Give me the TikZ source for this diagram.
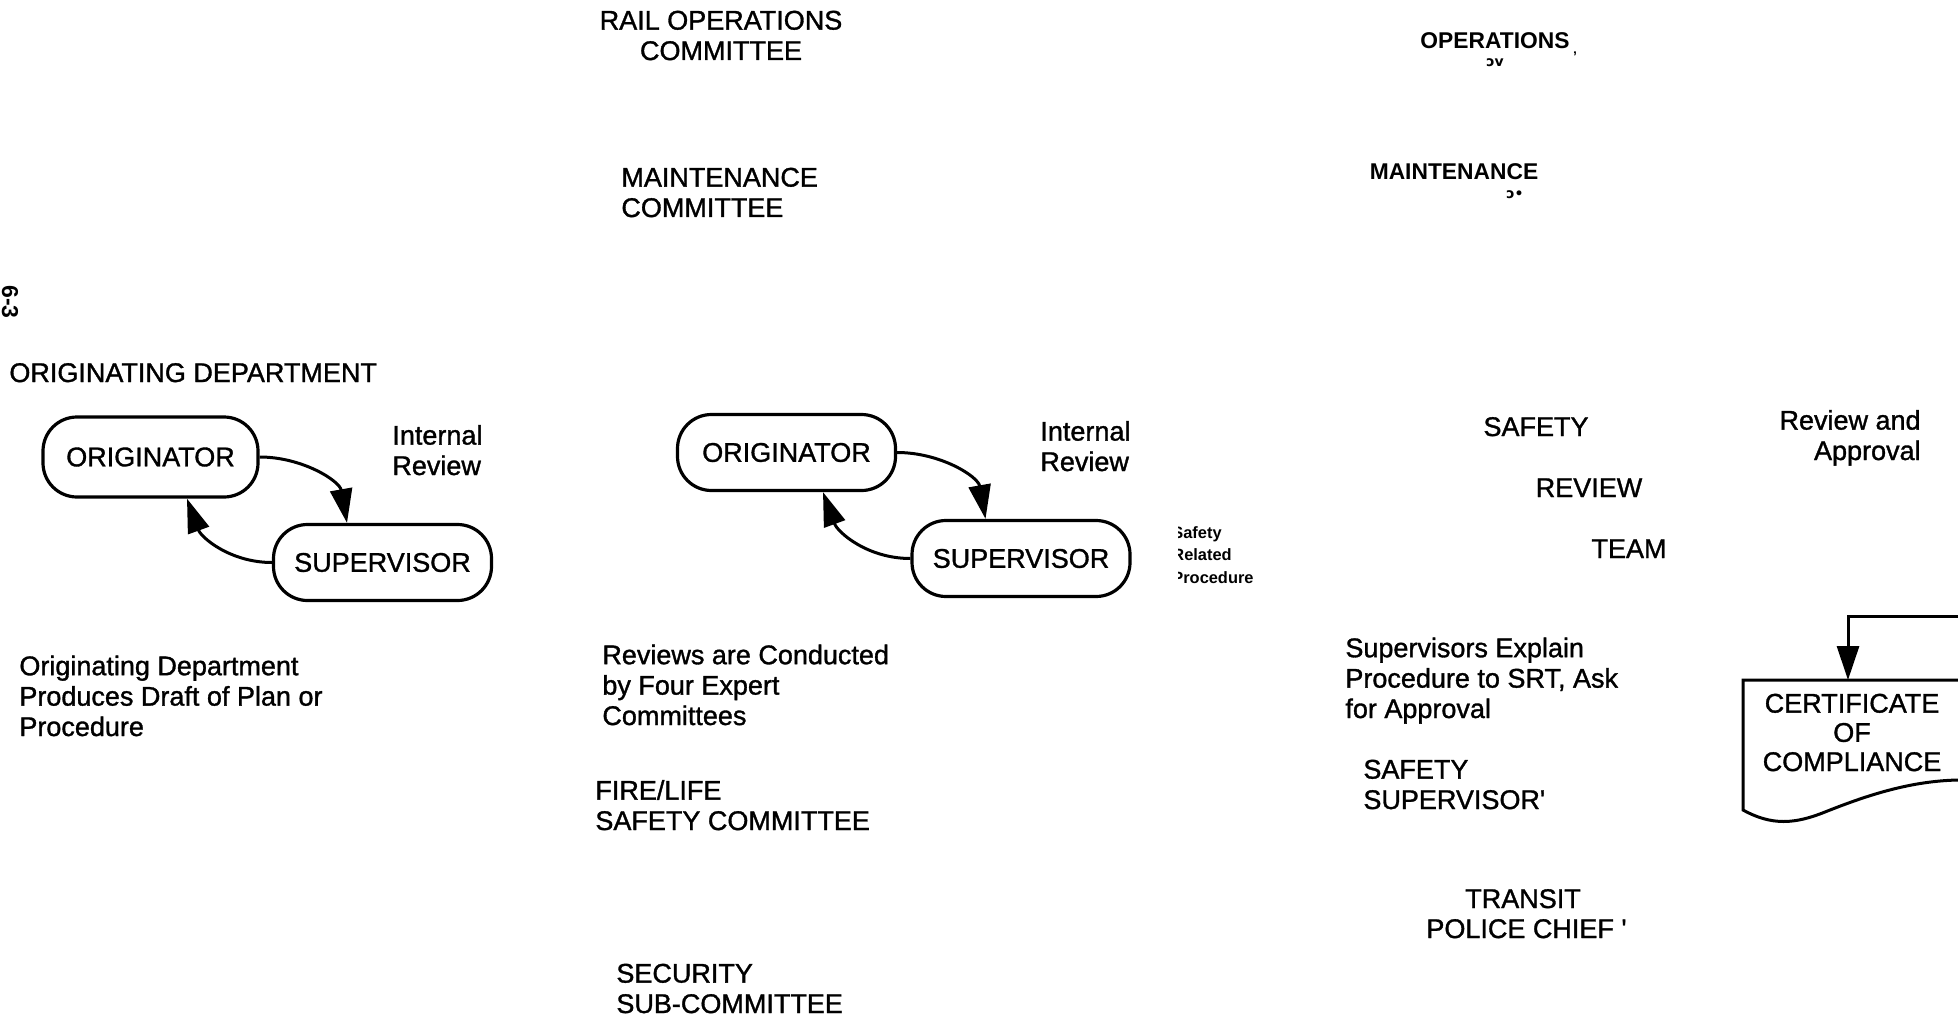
\documentclass[tikz,border=0pt]{standalone}
\usepackage{fontspec}
\setmainfont{Liberation Sans}
\newfontfamily\medsans[FakeBold=1.2]{Liberation Sans}
\newfontfamily\djv{DejaVu Sans}
\usetikzlibrary{arrows.meta}
\begin{document}
\begin{tikzpicture}[x=0.5pt,y=-0.5pt,
  txt/.style={font=\medsans\fontsize{13.5}{15.2}\selectfont, inner sep=0pt, align=left, anchor=base west},
  ctxt/.style={txt, align=center, anchor=base},
  btxt/.style={font=\bfseries\fontsize{11.4}{13}\selectfont, inner sep=0pt, anchor=base},
  pill/.style={draw, line width=1.6pt, rounded corners=17pt, font=\medsans\fontsize{13.5}{15.2}\selectfont,
    minimum width=109pt, minimum height=38pt, inner sep=0pt},
  arr/.style={line width=1.5pt, -{Triangle[length=17pt,width=11pt]}},
  line/.style={line width=1.5pt}]
\useasboundingbox (0,0) rectangle (1958,1016);

% page number
\node[font=\bfseries\fontsize{11.5}{12}\selectfont, rotate=-90, inner sep=0pt] (pg) at (10,302) {6-3};

% top middle committees (anchor base = last line)
\node[ctxt] (rail) at (721,60) {RAIL OPERATIONS\\COMMITTEE};
\node[txt] (maint) at (621,217) {MAINTENANCE\\COMMITTEE};

% left group
\node[txt] (dept) at (9,382) {ORIGINATING DEPARTMENT};
\node[pill, minimum width=107.5pt, minimum height=40pt] (o1) at (150.5,457) {ORIGINATOR};
\node[pill] (s1) at (382.5,562.5) {SUPERVISOR};
\node[txt] (ir1) at (392,475) {Internal\\Review};
\draw[arr] (o1.east) to[out=0,in=100] ([xshift=-17.75pt]s1.north);
\draw[arr] (s1.west) to[out=180,in=-70] ([xshift=18.25pt]o1.south);
\node[txt] (draft) at (19,736) {Originating Department\\Produces Draft of Plan or\\Procedure};

% middle group
\node[pill] (o2) at (786.5,452.5) {ORIGINATOR};
\node[pill] (s2) at (1021,558.5) {SUPERVISOR};
\node[txt] (ir2) at (1040,471) {Internal\\Review};
\draw[arr] (o2.east) to[out=0,in=100] ([xshift=-17.75pt]s2.north);
\draw[arr] (s2.west) to[out=180,in=-70] ([xshift=18.25pt]o2.south);
\begin{scope}
\clip (1178,505) rectangle (1262,600);
\node[font=\bfseries\fontsize{8.2}{11.2}\selectfont, inner sep=0pt, align=left, anchor=base west] (srp) at (1172,583) {Safety\\Related\\Procedure};
\end{scope}
\node[txt] (rev) at (602,725) {Reviews are Conducted\\by Four Expert\\Committees};
\node[txt] (fire) at (595,830) {FIRE/LIFE\\SAFETY COMMITTEE};
\node[txt] (sec) at (616,1013) {SECURITY\\SUB-COMMITTEE};

% right group
\node[btxt] (ops) at (1495,49) {OPERATIONS};
\node[btxt, font=\djv\bfseries\fontsize{7}{8}\selectfont] (fr1) at (1495,67) {ɔv};
\node[btxt, font=\bfseries\fontsize{7}{8}\selectfont] (fr2) at (1575,62) {'};
\node[btxt] (mnt) at (1454,180) {MAINTENANCE};
\node[btxt, font=\djv\bfseries\fontsize{7}{8}\selectfont] (fr3) at (1515,199) {ɔ•};
\node[ctxt] (saf) at (1536,436) {SAFETY};
\node[ctxt] (revw) at (1589,497) {REVIEW};
\node[ctxt] (team) at (1629,558) {TEAM};
\node[txt, align=right, anchor=base east] (rap) at (1921,460) {Review and\\Approval};
\node[txt] (expl) at (1345,718) {Supervisors Explain\\Procedure to SRT, Ask\\for Approval};
\node[txt] (ssup) at (1363,809) {SAFETY\\SUPERVISOR'};
\node[ctxt] (tr) at (1523,908) {TRANSIT};
\node[txt] (pc) at (1426,938) {POLICE CHIEF '};

% certificate
\draw[line] (1958,680) -- (1743,680) -- (1743,810)
  .. controls (1772,826) and (1795,824) .. (1825,812)
  .. controls (1870,794) and (1912,781) .. (1958,780);
\node[ctxt, font=\medsans\fontsize{13.5}{14.6}\selectfont] (cert) at (1852,771) {CERTIFICATE\\OF\\COMPLIANCE};
\coordinate (feed) at (1958,616);
\coordinate (certtop) at (1848,680);
\draw[arr] (feed) -| (certtop);
\end{tikzpicture}
\end{document}
